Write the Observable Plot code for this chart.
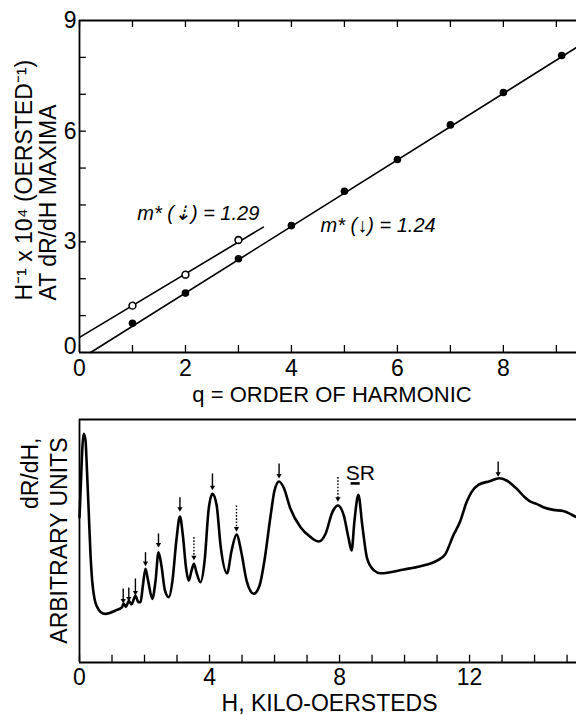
<!DOCTYPE html>
<html><head><meta charset="utf-8">
<script src="https://cdn.jsdelivr.net/npm/d3@7"></script>
<script src="https://cdn.jsdelivr.net/npm/@observablehq/plot@0.6"></script>
<style>
body{margin:0;background:#fff;}
#chart{width:576px;}
#chart svg{display:block;}
</style></head><body><div id="chart"></div>
<script>
// ---------- Top panel data ----------
const qFilled = [1, 2, 3, 4, 5, 6, 7, 8, 9.1];
const invHFilled = [0.79, 1.61, 2.54, 3.44, 4.37, 5.23, 6.17, 7.05, 8.05];
const qOpen = [1, 2, 3];
const invHOpen = [1.27, 2.11, 3.05];
const fitFilledQ = [0.21, 9.38];
const fitFilledV = [0, 8.27];
const fitOpenQ = [0, 3.47];
const fitOpenV = [0.41, 3.40];
const topXLabels = [0, 2, 4, 6, 8];
const topYLabels = [3, 6, 9];
const topYZeroLabel = [0];
const topXTicks = [0, 1, 2, 3, 4, 5, 6, 7, 8, 9];
const topYTicks = [1, 2, 3, 4, 5, 6, 7, 8];
const topNotes = ["m* (⇣) = 1.29", "m* (↓) = 1.24"];
const topNoteQ = [1.09, 4.55];
const topNoteV = [3.77, 3.44];

// ---------- Bottom panel data ----------
const fieldH = [0, 0.046, 0.092, 0.13, 0.185, 0.23, 0.286, 0.34, 0.39, 0.46, 0.545, 0.646, 0.80, 1.11, 1.31,
  1.354, 1.43, 1.517, 1.60, 1.72, 1.815, 1.877, 1.95, 2.03, 2.11, 2.24, 2.34, 2.43, 2.52, 2.63, 2.75,
  2.86, 2.98, 3.09, 3.18, 3.28, 3.36, 3.45, 3.52, 3.60, 3.72, 3.85, 3.97, 4.09, 4.22, 4.34, 4.54,
  4.68, 4.83, 4.98, 5.14, 5.36, 5.54, 5.69, 5.88, 6.0, 6.14, 6.28, 6.49, 6.80, 7.11, 7.36, 7.57,
  7.78, 7.95, 8.13, 8.28, 8.37, 8.46, 8.58, 8.70, 8.85, 9.06, 9.26, 9.98, 10.49, 11.01, 11.26, 11.50,
  11.70, 11.91, 12.06, 12.27, 12.62, 12.91, 13.14, 13.45, 13.70, 13.86, 14.06, 14.27, 14.58, 14.88, 15.19, 15.29];
const dRdH = [5.98, 7.49, 8.93, 9.41, 9.14, 7.90, 6.13, 4.40, 3.37, 2.63, 2.28, 2.08, 2.00, 2.14, 2.28,
  2.43, 2.30, 2.53, 2.39, 2.74, 2.48, 2.48, 3.17, 3.86, 3.37, 2.62, 3.37, 4.54, 3.99, 2.96, 2.69,
  3.37, 5.02, 6.01, 5.23, 3.87, 3.37, 3.79, 4.06, 3.70, 3.30, 4.20, 6.26, 6.94, 6.46, 4.81, 3.67,
  4.61, 5.27, 4.53, 3.37, 2.83, 3.17, 4.20, 6.05, 7.08, 7.45, 7.20, 6.33, 5.57, 5.16, 4.98, 5.30,
  6.19, 6.46, 6.05, 5.10, 4.61, 5.84, 6.90, 5.64, 4.27, 3.79, 3.67, 3.83, 3.96, 4.20, 4.47, 5.23,
  5.77, 6.60, 7.01, 7.31, 7.46, 7.58, 7.49, 7.15, 6.80, 6.63, 6.53, 6.39, 6.28, 6.23, 6.05, 5.98];
const arrowH = [1.345, 1.517, 1.72, 2.03, 2.43, 3.09, 3.52, 4.09, 4.83, 6.14, 7.95, 12.88];
const arrowTop = [3.05, 3.09, 3.46, 4.54, 5.31, 6.80, 5.16, 7.78, 6.46, 8.19, 7.63, 8.27];
const arrowTip = [2.55, 2.63, 2.88, 4.09, 4.86, 6.33, 4.33, 7.21, 5.51, 7.70, 6.74, 7.77];
const arrowKind = ["solid", "solid", "solid", "solid", "solid", "solid", "dotted", "solid", "dotted", "solid", "dotted", "solid"];
const botXLabels = [0, 4, 8, 12];
const botXTicks = [0, 1, 2, 3, 4, 5, 6, 7, 8, 9, 10, 11, 12, 13, 14, 15];
const srLabel = "SR";
const srH = 8.64, srV = 7.78;
const srBarH = [8.34, 8.62], srBarV = 7.37;

// ---------- build tables ----------
const filled = qFilled.map((q, i) => ({q, v: invHFilled[i]}));
const open = qOpen.map((q, i) => ({q, v: invHOpen[i]}));
const fitF = fitFilledQ.map((q, i) => ({q, v: fitFilledV[i]}));
const fitO = fitOpenQ.map((q, i) => ({q, v: fitOpenV[i]}));
const notes = topNotes.map((t, i) => ({t, q: topNoteQ[i], v: topNoteV[i]}));
const trace = fieldH.map((h, i) => ({h, r: dRdH[i]}));
const arrows = arrowH.map((h, i) => ({h, top: arrowTop[i], tip: arrowTip[i], kind: arrowKind[i]}));

const FONT = "'Liberation Sans', Arial, Helvetica, sans-serif";
const baseStyle = {fontFamily: FONT, fontSize: "23px", color: "black", background: "white", overflow: "visible"};

const topPlot = Plot.plot({
  width: 576, height: 405,
  marginTop: 20, marginBottom: 53, marginLeft: 79, marginRight: 0,
  style: baseStyle,
  x: {domain: [0, 9.38]},
  y: {domain: [0, 9]},
  marks: [
    Plot.axisX({ticks: topXLabels, tickSize: 0, tickPadding: 7, label: null}),
    Plot.axisY({ticks: topYLabels, tickSize: 0, tickPadding: 3, label: null}),
    Plot.axisY({ticks: topYZeroLabel, tickSize: 0, tickPadding: 3, label: null, dy: -6}),
    Plot.ruleY([0, 9], {stroke: "black", strokeWidth: 1.8}),
    Plot.ruleX([0], {stroke: "black", strokeWidth: 1.8}),
    Plot.ruleX(topXTicks, {x: d => d, y1: 0, y2: 0.19, stroke: "black", strokeWidth: 1.3}),
    Plot.ruleX(topXTicks, {x: d => d, y1: 9, y2: 8.81, stroke: "black", strokeWidth: 1.3}),
    Plot.ruleY(topYTicks, {y: d => d, x1: 0, x2: 0.13, stroke: "black", strokeWidth: 1.3}),
    Plot.line(fitF, {x: "q", y: "v", stroke: "black", strokeWidth: 1.6}),
    Plot.line(fitO, {x: "q", y: "v", stroke: "black", strokeWidth: 1.6}),
    Plot.dot(filled, {x: "q", y: "v", r: 3.8, fill: "black", stroke: "none"}),
    Plot.dot(open, {x: "q", y: "v", r: 3.4, fill: "white", stroke: "black", strokeWidth: 1.6}),
    Plot.text(notes, {x: "q", y: "v", text: "t", textAnchor: "start", fontStyle: "italic", fontSize: 20}),
    Plot.text(["q = ORDER OF HARMONIC"], {frameAnchor: "bottom", dy: 42, dx: 4, lineAnchor: "middle", fontSize: 22}),
    Plot.text(["H⁻¹ x 10⁴ (OERSTED⁻¹)"], {frameAnchor: "left", rotate: -90, textAnchor: "start", lineAnchor: "middle", dx: -55, dy: 114}),
    Plot.text(["AT dR/dH MAXIMA"], {frameAnchor: "left", rotate: -90, textAnchor: "start", lineAnchor: "middle", dx: -31, dy: 114})
  ]
});

const bottomPlot = Plot.plot({
  width: 576, height: 310,
  marginTop: 14, marginBottom: 53, marginLeft: 79, marginRight: 0,
  style: baseStyle,
  x: {domain: [0, 15.29]},
  y: {domain: [0, 10], axis: null},
  marks: [
    Plot.axisX({ticks: botXLabels, tickSize: 0, tickPadding: 6, label: null}),
    Plot.ruleY([0, 10], {stroke: "black", strokeWidth: 1.8}),
    Plot.ruleX([0], {stroke: "black", strokeWidth: 1.8}),
    Plot.ruleX(botXTicks, {x: d => d, y1: 0, y2: 0.3, stroke: "black", strokeWidth: 1.3}),
    Plot.line(trace, {x: "h", y: "r", curve: "monotone-x", stroke: "black", strokeWidth: 2.6, strokeLinejoin: "round", strokeLinecap: "round"}),
    Plot.link(arrows.filter(d => d.kind === "solid"), {x1: "h", x2: "h", y1: "top", y2: "tip", stroke: "black", strokeWidth: 1.4}),
    Plot.link(arrows.filter(d => d.kind === "dotted"), {x1: "h", x2: "h", y1: "top", y2: "tip", stroke: "black", strokeWidth: 1.4, strokeDasharray: "1.6,1.6"}),
    Plot.dot(arrows, {x: "h", y: "tip", symbol: "triangle2", r: 2.5, rotate: 180, fill: "black", stroke: "none", dy: 0}),
    Plot.text([srLabel], {x: () => srH, y: () => srV, fontSize: 21}),
    Plot.link([srBarH], {x1: d => d[0], x2: d => d[1], y1: () => srBarV, y2: () => srBarV, stroke: "black", strokeWidth: 2.6}),
    Plot.text(["H, KILO-OERSTEDS"], {frameAnchor: "bottom", dy: 41, dx: 1.5, lineAnchor: "middle"}),
    Plot.text(["dR/dH,"], {frameAnchor: "left", rotate: -90, textAnchor: "end", lineAnchor: "middle", dx: -49, dy: -103.5}),
    Plot.text(["ARBITRARY UNITS"], {frameAnchor: "left", rotate: -90, textAnchor: "end", lineAnchor: "middle", dx: -20, dy: -103.5})
  ]
});

document.getElementById("chart").append(topPlot, bottomPlot);
</script>
</body></html>
